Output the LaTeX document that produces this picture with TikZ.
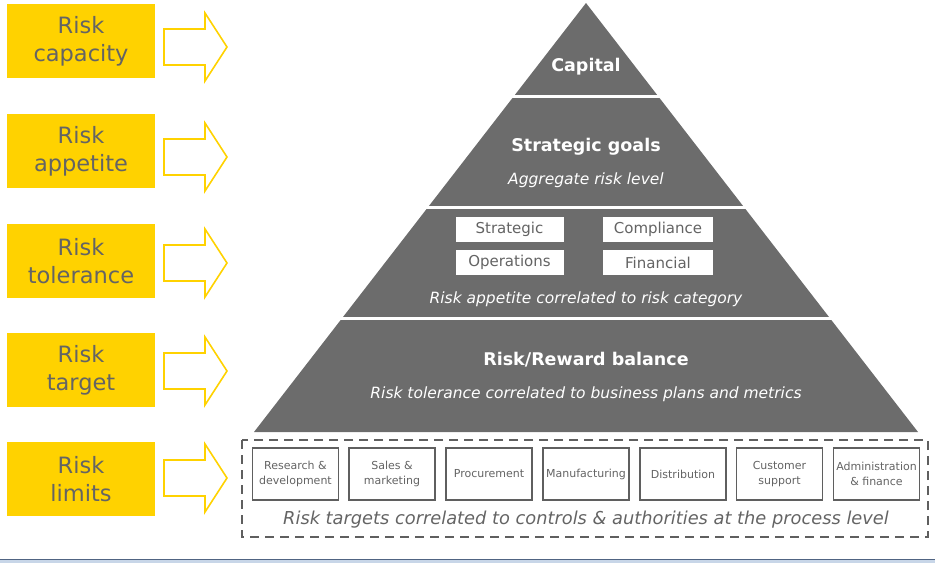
\documentclass[tikz,border=0pt]{standalone}
\usepackage{fontspec}
\setmainfont{DejaVu Sans}
\usetikzlibrary{calc}
\definecolor{eyyellow}{RGB}{255,210,0}
\definecolor{eygray}{RGB}{100,100,100}
\definecolor{pyr}{RGB}{108,108,108}
\definecolor{boxline}{RGB}{95,95,95}
\definecolor{barblue}{RGB}{200,214,232}
\definecolor{barline}{RGB}{80,100,130}
\begin{document}
\begin{tikzpicture}[x=1pt,y=-1pt,
  ylabel/.style={fill=eyyellow, minimum width=148pt, minimum height=74pt, inner sep=0pt,
    align=center, text=eygray, font=\fontsize{22.5}{28}\selectfont},
  blockarrow/.style={draw=eyyellow, line width=1.6pt, fill=white, line join=miter},
  ptitle/.style={text=white, font=\bfseries\fontsize{17.5}{20}\selectfont},
  psub/.style={text=white, font=\itshape\fontsize{15.5}{18}\selectfont},
  catbox/.style={fill=white, minimum width=108pt, minimum height=25pt, inner sep=0pt,
    text=eygray, font=\fontsize{15}{18}\selectfont},
  procbox/.style={draw=boxline, line width=1.8pt, fill=white, minimum width=86pt, minimum height=52pt,
    inner sep=0pt, align=center, text=eygray, font=\fontsize{11}{15}\selectfont},
  sepline/.style={white, line width=2.6pt},
]
\useasboundingbox (0,0) rectangle (935,563);

% left labels
\node[ylabel] (cap) at (81,41) {Risk\\capacity};
\node[ylabel] (app) at (81,151) {Risk\\appetite};
\node[ylabel] (tol) at (81,261) {Risk\\tolerance};
\node[ylabel] (tar) at (81,370) {Risk\\target};
\node[ylabel] (lim) at (81,479) {Risk\\limits};

% block arrows
\foreach \cy in {47,157,263,371,478} {
  \draw[blockarrow, shift={(0,\cy)}] (164,-18) -- (205,-18) -- (205,-34) -- (227,0) -- (205,34) -- (205,18) -- (164,18) -- cycle;
}

% pyramid
\coordinate (apex) at (586,3);
\coordinate (bl) at (254,432);
\coordinate (br) at (918,432);
\fill[pyr] (apex) -- (bl) -- (br) -- cycle;
\foreach \t in {0.2173,0.4766,0.7360} {
  \draw[sepline] ($(apex)!\t!(bl)+(-3,0)$) -- ($(apex)!\t!(br)+(3,0)$);
}

\node[ptitle] (capital) at (586,67) {Capital};
\node[ptitle] (goals) at (586,147) {Strategic goals};
\node[psub] (agg) at (586,180) {Aggregate risk level};

\node[catbox] (strat) at (509.5,229.5) {Strategic};
\node[catbox, minimum width=110pt] (comp) at (658,229.5) {Compliance};
\node[catbox] (oper) at (509.5,262.5) {Operations};
\node[catbox, minimum width=110pt] (fin) at (658,262.5) {Financial};
\node[psub] (appcorr) at (586,299) {Risk appetite correlated to risk category};

\node[ptitle] (rrb) at (586,360) {Risk/Reward balance};
\node[psub] (tolcorr) at (586,394) {Risk tolerance correlated to business plans and metrics};

% process level
\draw[boxline, line width=1.6pt, dash pattern=on 9pt off 6pt] (242,440) rectangle (928,537);
\node[procbox] (rd) at (295.5,474) {Research \&\\development};
\node[procbox] (sm) at (392,474) {Sales \&\\marketing};
\node[procbox] (pr) at (489,474) {Procurement};
\node[procbox] (mf) at (586,474) {Manufacturing};
\node[procbox] (ds) at (683,474) {Distribution};
\node[procbox] (cs) at (779.5,474) {Customer\\support};
\node[procbox] (af) at (876.5,474) {Administration\\\& finance};
\node[text=eygray, font=\itshape\fontsize{17.8}{20}\selectfont] (proc) at (586,519.5)
  {Risk targets correlated to controls \& authorities at the process level};

% bottom strip
\fill[barblue] (0,560) rectangle (935,563);
\draw[barline, line width=1pt] (0,559.5) -- (935,559.5);
\end{tikzpicture}
\end{document}
